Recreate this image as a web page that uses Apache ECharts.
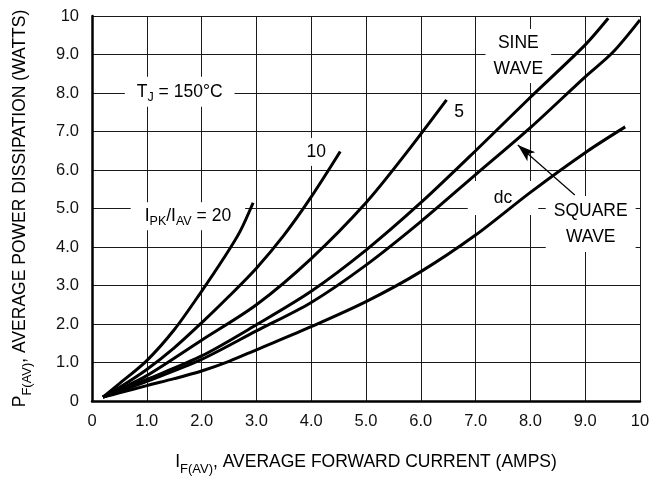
<!DOCTYPE html>
<html><head><meta charset="utf-8">
<script src="https://cdn.jsdelivr.net/npm/echarts@6/dist/echarts.min.js"></script>
<style>html,body{margin:0;padding:0;background:#fff}#c{width:667px;height:478px}</style>
</head><body><div id="c"></div>
<script>
const FONT = '"Liberation Sans",Arial,sans-serif';

// [IF(AV) amps, PF(AV) watts]
const ratio20 = [[0.2,0.1],[0.5,0.45],[1.0,1.05],[1.5,1.85],[2.0,2.85],[2.4,3.7],[2.7,4.4],[2.94,5.15]];
const ratio10 = [[0.2,0.1],[0.5,0.35],[1.0,0.82],[1.5,1.38],[2.0,2.03],[2.5,2.72],[3.0,3.45],[3.5,4.3],[4.0,5.3],[4.53,6.48]];
const ratio5  = [[0.2,0.1],[0.5,0.3],[1.0,0.66],[2.0,1.58],[3.0,2.5],[4.0,3.7],[5.0,5.15],[5.74,6.45],[6.47,7.82]];
const sineWave = [[0.2,0.1],[0.5,0.27],[1.0,0.56],[2.0,1.17],[3.0,1.98],[4.0,2.85],[5.0,3.92],[6.0,5.15],[7.0,6.5],[8.0,7.89],[9.0,9.25],[9.42,9.94]];
const squareWave = [[0.2,0.1],[0.5,0.25],[1.0,0.51],[2.0,1.08],[3.0,1.82],[4.0,2.56],[5.0,3.53],[6.0,4.66],[7.0,5.88],[8.0,7.1],[9.0,8.42],[9.5,9.05],[10.0,9.9]];
const dcCurve = [[0.2,0.1],[0.5,0.21],[1.0,0.4],[1.5,0.58],[2.0,0.78],[2.5,1.03],[3.0,1.33],[4.0,1.93],[5.0,2.58],[6.0,3.36],[7.0,4.31],[8.0,5.42],[9.0,6.45],[9.73,7.12]];

const xTickLabels = ['0','1.0','2.0','3.0','4.0','5.0','6.0','7.0','8.0','9.0','10'];
const yTickLabels = ['0','1.0','2.0','3.0','4.0','5.0','6.0','7.0','8.0','9.0','10'];

const arrowFrom = [8.81, 5.35];
const arrowTo = [7.77, 6.65];

const annotations = [
  {text:'{m|T}{s|J}{m| = 150°C}', at:[1.6, 8.03], pad:[3,12]},
  {text:'{m|I}{s|PK}{m|/I}{s|AV}{m| = 20}', at:[1.75, 4.8], pad:[2,14]},
  {text:'10', at:[4.09, 6.47], pad:[1,2]},
  {text:'5', at:[6.7, 7.5], pad:[1,2]},
  {text:'SINE\nWAVE', at:[7.78, 8.96], pad:[1,8]},
  {text:'dc', at:[7.5, 5.27], pad:[4,26]},
  {text:'SQUARE\nWAVE', at:[9.1, 4.6], pad:[2,8]}
];

const chart = echarts.init(document.getElementById('c'), null, {renderer:'canvas'});

const richAxis = {
  m:{fontSize:17.5, lineHeight:28, fontFamily:FONT, color:'#000'},
  s:{fontSize:13, lineHeight:13, verticalAlign:'bottom', fontFamily:FONT, color:'#000'}
};

function mkSeries(name, data, extra){
  return Object.assign({
    name, type:'line', data, smooth:0.3, showSymbol:false, symbol:'none',
    lineStyle:{color:'#000', width:3}, itemStyle:{color:'#000'}, z:5, silent:true
  }, extra||{});
}

chart.setOption({
  animation:false,
  backgroundColor:'#fff',
  grid:{left:92, right:27, top:16, bottom:77, outerBoundsMode:'none', containLabel:false},
  xAxis:{
    type:'value', min:0, max:10, interval:1,
    axisLine:{show:true, onZero:false, lineStyle:{color:'#000', width:2.5}},
    axisTick:{show:false},
    splitLine:{show:true, lineStyle:{color:'#1a1a1a', width:1}},
    axisLabel:{formatter:v=>xTickLabels[Math.round(v)], fontSize:16.5, fontFamily:FONT, color:'#111', margin:12},
    name:'{m|I}{s|F(AV)}{m|, AVERAGE FORWARD CURRENT (AMPS)}',
    nameLocation:'middle', nameGap:47,
    nameTextStyle:{rich:richAxis, fontFamily:FONT, fontSize:17.5, color:'#000'}
  },
  yAxis:{
    type:'value', min:0, max:10, interval:1,
    axisLine:{show:true, onZero:false, lineStyle:{color:'#000', width:2.5}},
    axisTick:{show:false},
    splitLine:{show:true, lineStyle:{color:'#1a1a1a', width:1}},
    axisLabel:{formatter:v=>yTickLabels[Math.round(v)], fontSize:16.5, fontFamily:FONT, color:'#111', margin:13},
    name:'{m|P}{s|F(AV)}{m|, AVERAGE POWER DISSIPATION (WATTS)}',
    nameLocation:'middle', nameGap:58, nameRotate:90,
    nameTextStyle:{rich:richAxis, fontFamily:FONT, fontSize:17.5, color:'#000'}
  },
  series:[
    mkSeries('20', ratio20),
    mkSeries('10', ratio10),
    mkSeries('5', ratio5),
    mkSeries('sine', sineWave),
    mkSeries('square', squareWave, {
      markLine:{
        silent:true, symbol:['none','arrow'], symbolSize:[9,18], animation:false,
        label:{show:false}, emphasis:{disabled:true},
        lineStyle:{color:'#000', width:1.2, type:'solid'},
        data:[[{coord:arrowFrom},{coord:arrowTo}]]
      }
    }),
    mkSeries('dc', dcCurve)
  ]
});

const richAnn = {
  m:{fontSize:17.5, lineHeight:24, fontFamily:FONT, fill:'#000'},
  s:{fontSize:12.5, lineHeight:12, verticalAlign:'bottom', fontFamily:FONT, fill:'#000'}
};
const graphics = annotations.map(a=>{
  const p = chart.convertToPixel({gridIndex:0}, a.at);
  return {
    type:'text', x:p[0], y:p[1], z:1, silent:true,
    style:{
      text:a.text, rich:richAnn, fill:'#000', fontFamily:FONT, fontSize:17.5, lineHeight:26,
      align:'center', verticalAlign:'middle', backgroundColor:'#fff', padding:a.pad
    }
  };
});
chart.setOption({graphic:graphics});
</script>
</body></html>
